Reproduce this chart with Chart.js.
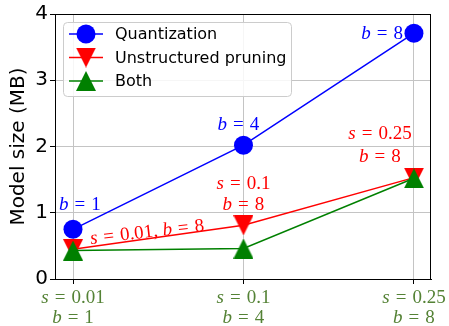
<!DOCTYPE html>
<html>
<head>
<meta charset="utf-8">
<script src="https://cdn.jsdelivr.net/npm/chart.js@4.4.1/dist/chart.umd.min.js"></script>
<style>
  html, body { margin: 0; padding: 0; background: #fff; }
  canvas { display: block; }
</style>
</head>
<body>
<canvas id="chart" width="449" height="326"></canvas>
<script>
// Data
const sparsity = ['0.01', '0.1', '0.25'];
const bits = ['1', '4', '8'];
const quantSize = [0.75, 2.02, 3.71];
const pruneSize = [0.45, 0.81, 1.53];
const bothSize = [0.43, 0.46, 1.52];
const yTicks = [0, 1, 2, 3, 4];

const quantLabels = ['b = 1', 'b = 4', 'b = 8'];
const pruneLabels = [['s = 0.01, b = 8'], ['s = 0.1', 'b = 8'], ['s = 0.25', 'b = 8']];
const xLabels = sparsity.map((s, i) => ['s = ' + s, 'b = ' + bits[i]]);

const BLUE = '#0000ff', RED = '#ff0000', GREEN = '#008000', OLIVE = '#548235';

// matplotlib-like triangle markers
function makeTriangle(up, color) {
    const c = document.createElement('canvas');
    c.width = 20; c.height = 20;
    const g = c.getContext('2d');
    g.fillStyle = color;
    g.beginPath();
    if (up) { g.moveTo(10, 0); g.lineTo(20, 20); g.lineTo(0, 20); }
    else { g.moveTo(0, 0); g.lineTo(20, 0); g.lineTo(10, 20); }
    g.closePath();
    g.fill();
    return c;
}
const triDown = makeTriangle(false, RED);
const triUp = makeTriangle(true, GREEN);

// mixed italic / upright text, like mathtext
function drawMath(ctx, str, x, y, align, color, size) {
    const runs = [];
    for (const ch of str.replace(/\s*=\s*/g, '=')) {
        if (ch === '=') { runs.push({ t: '=', it: false, pad: 6 }); continue; }
        const it = /[a-z]/i.test(ch);
        const last = runs[runs.length - 1];
        if (last && last.it === it && !last.pad) last.t += ch;
        else runs.push({ t: ch, it: it, pad: 0 });
    }
    const font = it => (it ? 'italic ' : '') + size + 'px "Liberation Serif"';
    let w = 0;
    runs.forEach(r => { ctx.font = font(r.it); r.w = ctx.measureText(r.t).width + 2 * r.pad; w += r.w; });
    let cx = align === 'center' ? x - w / 2 : align === 'right' ? x - w : x;
    ctx.fillStyle = color;
    ctx.textAlign = 'left';
    ctx.textBaseline = 'alphabetic';
    runs.forEach(r => { ctx.font = font(r.it); ctx.fillText(r.t, cx + r.pad, y + size * 0.33); cx += r.w; });
}

const extras = {
    id: 'extras',
    afterDraw(chart) {
        const ctx = chart.ctx;
        const a = chart.chartArea;
        const xs = chart.scales.x;
        const q = chart.getDatasetMeta(0).data;
        const p = chart.getDatasetMeta(1).data;
        ctx.save();

        // spines
        ctx.strokeStyle = '#000';
        ctx.lineWidth = 1;
        ctx.strokeRect(Math.round(a.left) + 0.5, Math.round(a.top) + 0.5,
            Math.round(a.right - a.left) - 1, Math.round(a.bottom - a.top));

        // x tick labels
        xLabels.forEach((lines, i) => {
            const x = xs.getPixelForValue(i);
            drawMath(ctx, lines[0], x, a.bottom + 18, 'center', OLIVE, 19);
            drawMath(ctx, lines[1], x, a.bottom + 38, 'center', OLIVE, 19);
        });

        // quantization annotations
        drawMath(ctx, quantLabels[0], q[0].x - 14, q[0].y - 26, 'left', BLUE, 19);
        drawMath(ctx, quantLabels[1], q[1].x - 5, q[1].y - 21, 'center', BLUE, 19);
        drawMath(ctx, quantLabels[2], q[2].x - 11, q[2].y, 'right', BLUE, 19);

        // pruning annotations
        ctx.save();
        ctx.translate(p[0].x + 74, p[0].y - 18);
        ctx.rotate(-6.5 * Math.PI / 180);
        drawMath(ctx, pruneLabels[0][0], 0, 0, 'center', RED, 19);
        ctx.restore();
        drawMath(ctx, pruneLabels[1][0], p[1].x, p[1].y - 43, 'center', RED, 19);
        drawMath(ctx, pruneLabels[1][1], p[1].x, p[1].y - 22, 'center', RED, 19);
        drawMath(ctx, pruneLabels[2][0], p[2].x - 34, p[2].y - 45, 'center', RED, 19);
        drawMath(ctx, pruneLabels[2][1], p[2].x - 34, p[2].y - 22, 'center', RED, 19);

        // legend
        const lx = a.left + 8, ly = a.top + 8, lw = 228, lh = 74;
        ctx.beginPath();
        ctx.roundRect(lx + 0.5, ly + 0.5, lw, lh, 4);
        ctx.fillStyle = 'rgba(255,255,255,0.85)';
        ctx.fill();
        ctx.strokeStyle = '#cccccc';
        ctx.stroke();
        chart.data.datasets.forEach((ds, i) => {
            const y = ly + 12 + i * 23.5;
            ctx.strokeStyle = ds.borderColor;
            ctx.lineWidth = 1.5;
            ctx.beginPath();
            ctx.moveTo(lx + 6, y);
            ctx.lineTo(lx + 40, y);
            ctx.stroke();
            if (ds.pointStyle === 'circle') {
                ctx.fillStyle = ds.backgroundColor;
                ctx.beginPath();
                ctx.arc(lx + 23, y, 9.5, 0, Math.PI * 2);
                ctx.fill();
            } else {
                ctx.drawImage(ds.pointStyle, lx + 13, y - 10);
            }
            ctx.fillStyle = '#000';
            ctx.font = '16px "DejaVu Sans"';
            ctx.textAlign = 'left';
            ctx.textBaseline = 'middle';
            ctx.fillText(ds.label, lx + 52, y + 1);
        });
        ctx.restore();
    }
};

const toPoints = arr => arr.map((v, i) => ({ x: i, y: v }));

new Chart(document.getElementById('chart').getContext('2d'), {
    type: 'line',
    data: {
        datasets: [{
            label: 'Quantization',
            data: toPoints(quantSize),
            borderColor: BLUE,
            backgroundColor: BLUE,
            pointStyle: 'circle',
            pointRadius: 9.5,
            pointBorderWidth: 0,
            borderWidth: 1.5,
            order: 2
        }, {
            label: 'Unstructured pruning',
            data: toPoints(pruneSize),
            borderColor: RED,
            backgroundColor: RED,
            pointStyle: triDown,
            pointRadius: 10,
            borderWidth: 1.5,
            order: 1
        }, {
            label: 'Both',
            data: toPoints(bothSize),
            borderColor: GREEN,
            backgroundColor: GREEN,
            pointStyle: triUp,
            pointRadius: 10,
            borderWidth: 1.5,
            order: 0
        }]
    },
    options: {
        responsive: false,
        animation: false,
        devicePixelRatio: 1,
        layout: { padding: { top: 14, right: 18, left: 0, bottom: 0 } },
        plugins: { legend: { display: false }, tooltip: { enabled: false } },
        scales: {
            x: {
                type: 'linear',
                min: -0.1056,
                max: 2.1,
                afterBuildTicks: s => { s.ticks = sparsity.map((_, i) => ({ value: i })); },
                afterFit: s => { s.height = 47; },
                ticks: { display: false },
                grid: { color: '#c4c4c4', lineWidth: 1, tickLength: 5, tickColor: '#000' },
                border: { color: '#000' }
            },
            y: {
                min: 0,
                max: 4,
                afterBuildTicks: s => { s.ticks = yTicks.map(v => ({ value: v })); },
                afterFit: s => { s.width = 55; },
                ticks: { color: '#000', font: { family: 'DejaVu Sans', size: 20 }, padding: 2 },
                grid: { color: '#c4c4c4', lineWidth: 1, tickLength: 5, tickColor: '#000' },
                border: { color: '#000' },
                title: {
                    display: true,
                    text: 'Model size (MB)',
                    color: '#000',
                    font: { family: 'DejaVu Sans', size: 20 },
                    padding: { top: 7, bottom: 0 }
                }
            }
        }
    },
    plugins: [extras]
});
</script>
</body>
</html>
